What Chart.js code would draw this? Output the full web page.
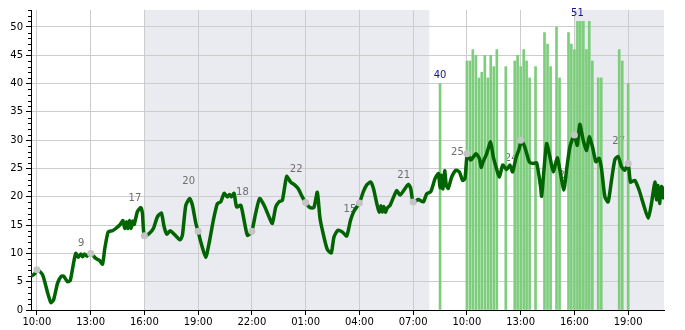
<!DOCTYPE html>
<html>
<head>
<meta charset="utf-8">
<title>Chart</title>
<script src="https://cdn.jsdelivr.net/npm/chart.js@4.4.1/dist/chart.umd.min.js"></script>
<style>
  html, body { margin: 0; padding: 0; background: #fff; }
  #wrap { position: relative; width: 685px; height: 330px; }
</style>
</head>
<body>
<div id="wrap"><canvas id="chart"></canvas></div>
<script>
// hours counted from 10:00 on day one
const tickHours = [0, 3, 6, 9, 12, 15, 18, 21, 24, 27, 30, 33];
const tickLabels = ['10:00', '13:00', '16:00', '19:00', '22:00', '01:00', '04:00', '07:00', '10:00', '13:00', '16:00', '19:00'];
const yTicks = [0, 5, 10, 15, 20, 25, 30, 35, 40, 45, 50];

// shaded periods [from, to]
const shadeSpans = [[6, 21.9], [30, 35]];

const lineHours = [
  -0.33, -0.15, 0.04, 0.32, 0.6, 0.78, 0.93, 1.15, 1.34, 1.49, 1.71, 1.86, 2.04, 2.17, 2.3, 2.45, 2.55, 2.65, 2.8, 3.0,
  3.29, 3.48, 3.66, 3.79, 3.98, 4.22, 4.4, 4.65, 4.8, 4.9, 5.0, 5.08, 5.17, 5.25, 5.35, 5.43, 5.61, 5.8, 5.89, 5.99,
  6.26, 6.5, 6.73, 6.95, 7.1, 7.25, 7.43, 7.66, 7.99, 8.12, 8.31, 8.53, 8.68, 8.87, 9.0, 9.14, 9.42, 9.61, 9.85, 10.07,
  10.26, 10.45, 10.63, 10.75, 10.86, 11.0, 11.15, 11.38, 11.56, 11.75, 11.99, 12.21, 12.43, 12.68, 12.95, 13.14, 13.33, 13.51, 13.7, 13.94,
  14.16, 14.35, 14.57, 14.81, 15.0, 15.24, 15.46, 15.65, 15.8, 16.02, 16.21, 16.43, 16.58, 16.8, 17.04, 17.29, 17.5, 17.7, 18.0, 18.22,
  18.41, 18.63, 18.78, 18.97, 19.1, 19.2, 19.28, 19.36, 19.45, 19.55, 19.71, 19.9, 20.08, 20.27, 20.49, 20.73, 20.86, 21.0, 21.29, 21.57,
  21.75, 21.98, 22.22, 22.41, 22.5, 22.58, 22.66, 22.76, 22.85, 22.96, 23.15, 23.39, 23.58, 23.76, 23.89, 24.02, 24.21, 24.51, 24.69, 24.8,
  24.88, 25.1, 25.32, 25.47, 25.62, 25.81, 26.0, 26.22, 26.4, 26.55, 26.74, 26.92, 27.05, 27.24, 27.48, 27.7, 27.89, 28.11, 28.17, 28.3,
  28.45, 28.63, 28.82, 29.04, 29.19, 29.41, 29.56, 29.75, 29.99, 30.16, 30.3, 30.49, 30.68, 30.83, 31.01, 31.2, 31.38, 31.51, 31.7, 31.88,
  32.07, 32.26, 32.44, 32.63, 32.81, 33.0, 33.13, 33.37, 33.61, 33.84, 34.12, 34.3, 34.49, 34.58, 34.66, 34.75, 34.86, 34.95, 35.0
];
const lineValues = [
  6.0, 6.3, 7.1, 6.2, 3.0, 1.3, 1.8, 4.7, 5.9, 6.0, 5.0, 5.2, 8.2, 10.0, 9.3, 9.9, 9.4, 9.9, 9.5, 10.0,
  9.1, 8.8, 8.1, 10.9, 13.8, 14.0, 14.4, 15.1, 15.8, 14.4, 15.6, 14.4, 15.8, 14.4, 15.7, 15.1, 17.4, 18.1, 17.1, 13.1,
  13.5, 14.4, 16.5, 17.1, 14.7, 13.4, 14.0, 13.4, 12.4, 13.2, 18.5, 19.7, 18.5, 15.3, 13.9, 12.1, 9.3, 11.8, 15.9, 18.8,
  19.1, 20.6, 20.0, 20.4, 20.0, 20.6, 18.2, 18.5, 15.9, 13.2, 13.9, 17.1, 19.7, 18.5, 16.5, 15.3, 18.2, 19.1, 19.4, 23.6,
  22.6, 22.2, 21.5, 20.0, 19.0, 18.1, 18.1, 20.8, 16.2, 12.9, 10.7, 10.1, 12.9, 14.1, 13.8, 13.1, 15.8, 17.5, 18.9, 20.9,
  22.1, 22.6, 21.5, 18.8, 17.3, 18.4, 17.3, 18.3, 17.3, 18.0, 18.5, 19.9, 21.1, 20.3, 21.2, 22.2, 21.5, 19.1, 19.5, 19.1,
  20.5, 20.9, 23.2, 24.1, 21.6, 23.8, 21.4, 24.6, 22.0, 21.5, 23.5, 24.7, 24.4, 22.9, 23.2, 27.6, 26.5, 27.6, 26.8, 25.2,
  26.0, 27.6, 29.7, 27.1, 25.3, 23.5, 25.6, 24.8, 25.6, 24.4, 26.9, 28.5, 30.0, 28.7, 26.2, 25.9, 26.0, 21.8, 20.1, 24.7,
  29.4, 27.1, 24.4, 26.9, 24.7, 21.2, 24.7, 28.8, 30.9, 29.1, 32.8, 30.0, 28.2, 30.6, 28.8, 26.2, 26.8, 25.0, 20.0, 19.1,
  22.9, 26.6, 27.1, 25.3, 24.7, 25.9, 22.6, 22.9, 21.2, 18.8, 16.2, 18.8, 22.6, 19.5, 22.0, 18.8, 21.8, 19.8, 21.8
];

// grey markers every 3 hours and the numbers written next to them
const dotHours = [0, 3, 6, 9, 12, 15, 18, 21, 24, 27, 30, 33];
const dotValues = [7.1, 10.0, 13.1, 13.9, 13.9, 19.0, 18.9, 19.1, 27.6, 30.0, 30.9, 25.9];
const dotLabels = [null, 9, 17, 20, 18, 22, 15, 21, 25, 24, 21, 27];

const barHours = [
  22.5, 24, 24.17, 24.33, 24.5, 24.67, 24.83, 25, 25.17, 25.33, 25.5, 25.67, 26.17, 26.67, 26.83, 27, 27.17, 27.33, 27.5, 27.83,
  28.33, 28.5, 28.67, 29, 29.17, 29.67, 29.83, 30, 30.17, 30.33, 30.5, 30.67, 30.83, 31, 31.33, 31.5, 32.5, 32.67, 33
];
const barValues = [
  40, 44, 44, 46, 45, 41, 42, 45, 41, 45, 43, 46, 43, 44, 45, 43, 46, 44, 41, 43,
  49, 47, 43, 50, 41, 49, 47, 46, 51, 51, 51, 46, 51, 44, 41, 41, 46, 44, 40
];
const labeledBars = [22.5, 30.17];

Chart.defaults.font.family = "'DejaVu Sans', sans-serif";
Chart.defaults.font.size = 10;
Chart.defaults.color = '#000';

const shadePlugin = {
  id: 'shade',
  beforeDraw(chart) {
    const { ctx, chartArea, scales } = chart;
    ctx.save();
    ctx.fillStyle = '#eaeaf1';
    shadeSpans.forEach(function (s) {
      const x1 = scales.x.getPixelForValue(s[0]);
      const x2 = scales.x.getPixelForValue(s[1]);
      ctx.fillRect(x1, chartArea.top, x2 - x1, chartArea.bottom - chartArea.top);
    });
    ctx.restore();
  }
};

const notesPlugin = {
  id: 'notes',
  beforeDatasetsDraw(chart) {
    const { ctx, scales } = chart;
    ctx.save();
    ctx.font = "10px 'DejaVu Sans'";
    ctx.textAlign = 'center';
    ctx.textBaseline = 'middle';
    ctx.fillStyle = '#6e6e6e';
    dotHours.forEach(function (h, i) {
      if (dotLabels[i] == null) return;
      const x = scales.x.getPixelForValue(h) - 9.5;
      const y = scales.y.getPixelForValue(dotLabels[i] + 2.8);
      ctx.fillText(String(dotLabels[i]), x, y);
    });
    ctx.restore();
  },
  afterDatasetsDraw(chart) {
    const { ctx, scales } = chart;
    ctx.save();
    ctx.font = "10px 'DejaVu Sans'";
    ctx.textAlign = 'center';
    ctx.textBaseline = 'bottom';
    ctx.fillStyle = '#16168c';
    labeledBars.forEach(function (h) {
      const i = barHours.indexOf(h);
      const x = scales.x.getPixelForValue(h);
      const y = scales.y.getPixelForValue(barValues[i]) - 3;
      ctx.fillText(String(barValues[i]), x, y);
    });
    ctx.restore();
  },
  afterDraw(chart) {
    // minor ticks on the y axis
    const { ctx, scales } = chart;
    const x0 = scales.y.right;
    ctx.save();
    ctx.strokeStyle = '#000';
    ctx.lineWidth = 1;
    ctx.beginPath();
    for (let v = 1; v <= 53; v++) {
      if (v % 5 === 0) continue;
      const y = Math.round(scales.y.getPixelForValue(v)) + 0.5;
      ctx.moveTo(x0 - 3, y);
      ctx.lineTo(x0, y);
    }
    ctx.stroke();
    ctx.restore();
  }
};

new Chart(document.getElementById('chart'), {
  type: 'line',
  data: {
    datasets: [
      {
        type: 'line',
        data: dotHours.map(function (h, i) { return { x: h, y: dotValues[i] }; }),
        showLine: false,
        pointRadius: 3.5,
        pointBackgroundColor: '#c4c4c4',
        pointBorderWidth: 0,
        order: 0
      },
      {
        type: 'line',
        data: lineHours.map(function (h, i) { return { x: h, y: lineValues[i] }; }),
        borderColor: '#006400',
        borderWidth: 3.5,
        pointRadius: 0,
        tension: 0.2,
        fill: false,
        order: 1
      },
      {
        type: 'bar',
        data: barHours.map(function (h, i) { return { x: h, y: barValues[i] }; }),
        backgroundColor: '#7dcd7d',
        barThickness: 2,
        order: 2
      }
    ]
  },
  options: {
    responsive: true,
    maintainAspectRatio: false,
    animation: false,
    events: [],
    layout: { padding: { top: 10, right: 21, left: 0, bottom: 0 } },
    plugins: { legend: { display: false }, tooltip: { enabled: false } },
    scales: {
      x: {
        type: 'linear',
        min: -0.33,
        max: 35,
        offset: false,
        afterBuildTicks: function (scale) {
          scale.ticks = tickHours.map(function (v) { return { value: v }; });
        },
        afterFit: function (scale) { scale.height = 20; },
        ticks: {
          autoSkip: false,
          maxRotation: 0,
          padding: 1,
          callback: function (v, i) { return tickLabels[i]; }
        },
        grid: { offset: false, color: '#cccccc', tickColor: '#000', tickLength: 5, lineWidth: 1 },
        border: { color: '#000', width: 1 }
      },
      y: {
        min: 0,
        max: 53,
        afterBuildTicks: function (scale) {
          scale.ticks = yTicks.map(function (v) { return { value: v }; });
        },
        afterFit: function (scale) { scale.width = 31; },
        ticks: { padding: 3 },
        grid: { color: '#cccccc', tickColor: '#000', tickLength: 5, lineWidth: 1 },
        border: { color: '#000', width: 1 }
      }
    }
  },
  plugins: [shadePlugin, notesPlugin]
});
</script>
</body>
</html>
